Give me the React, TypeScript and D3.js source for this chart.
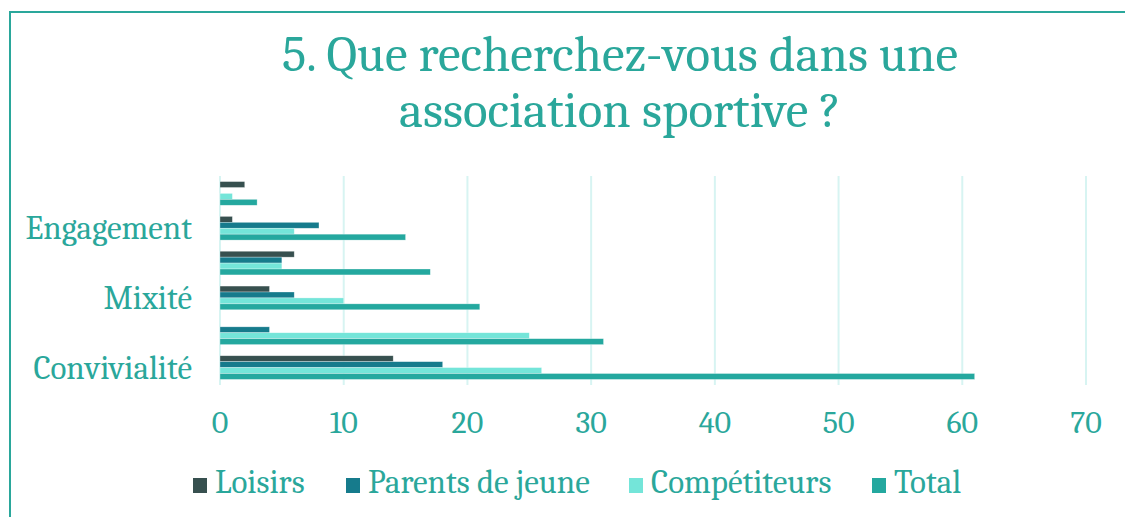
import React, { useEffect, useRef } from "react";
import * as d3 from "d3";

const categories = ["cat6", "Engagement", "cat4", "Mixité", "cat2", "Convivialité"];
const categoryLabels = ["", "Engagement", "", "Mixité", "", "Convivialité"];
const seriesNames = ["Loisirs", "Parents de jeune", "Compétiteurs", "Total"];
const loisirs = [2, 1, 6, 4, 0, 14];
const parents = [0, 8, 5, 6, 4, 18];
const competiteurs = [1, 6, 5, 10, 25, 26];
const total = [3, 15, 17, 21, 31, 61];
const xTicks = [0, 10, 20, 30, 40, 50, 60, 70];
const titleLines = ["5. Que recherchez-vous dans une", "association sportive ?"];

const colors = ["#37504f", "#167b8c", "#74e5d9", "#24a89f"];
const TEXT = "#2aa79b";
const FONT = "Cambria, 'Liberation Serif', serif";

export default function App() {
  const ref = useRef<SVGSVGElement>(null);
  useEffect(() => {
    const svg = d3.select(ref.current);
    svg.selectAll("*").remove();
    const W = 1125, H = 517;
    svg.append("rect").attr("width", W).attr("height", H).attr("fill", "#fff");
    // frame
    svg.append("path").attr("d", `M10,${H} L10,12 L${W},12`).attr("fill", "none").attr("stroke", TEXT).attr("stroke-width", 2);

    // title
    const t = svg.append("text").attr("text-anchor", "middle").attr("fill", TEXT)
      .attr("font-family", FONT).attr("font-size", 51);
    titleLines.forEach((l, i) => {
      t.append("tspan").attr("x", 620).attr("y", 71 + i * 56).text(l);
    });

    const x = d3.scaleLinear().domain([0, 70]).range([220, 1086]);
    const y0 = d3.scaleBand<string>().domain(categories).range([176, 385]).paddingInner(0.32).paddingOuter(0.16);
    const y1 = d3.scaleBand<string>().domain(seriesNames).range([0, y0.bandwidth()]);
    const values = [loisirs, parents, competiteurs, total];

    // grid
    svg.append("g").selectAll("line").data(xTicks).join("line")
      .attr("x1", d => x(d)).attr("x2", d => x(d)).attr("y1", 176).attr("y2", 385)
      .attr("stroke", "#d7f4f2").attr("stroke-width", 2);

    // bars
    const g = svg.append("g");
    categories.forEach((c, ci) => {
      seriesNames.forEach((s, si) => {
        const v = values[si][ci];
        if (v <= 0) return;
        g.append("rect")
          .attr("x", x(0)).attr("y", (y0(c) as number) + (y1(s) as number))
          .attr("width", x(v) - x(0)).attr("height", y1.bandwidth())
          .attr("fill", colors[si]).attr("stroke", "#ffffff").attr("stroke-opacity", 0.5).attr("stroke-width", 0.6);
      });
    });

    // category labels
    svg.append("g").selectAll("text").data(categories).join("text")
      .attr("x", 192).attr("y", d => (y0(d) as number) + y0.bandwidth() / 2 + 11)
      .attr("text-anchor", "end").attr("fill", TEXT).attr("font-family", FONT).attr("font-size", 33)
      .text((d, i) => categoryLabels[i]);

    // x tick labels
    svg.append("g").selectAll("text").data(xTicks).join("text")
      .attr("x", d => x(d)).attr("y", 433).attr("text-anchor", "middle")
      .attr("fill", TEXT).attr("font-family", FONT).attr("font-size", 32).text(d => String(d));

    // legend
    const legendX = [193, 346, 629, 872];
    const lg = svg.append("g");
    seriesNames.forEach((s, i) => {
      lg.append("rect").attr("x", legendX[i]).attr("y", 478).attr("width", 14).attr("height", 15).attr("fill", colors[i]);
      lg.append("text").attr("x", legendX[i] + 22).attr("y", 493).attr("fill", TEXT)
        .attr("font-family", FONT).attr("font-size", 33).text(s);
    });
  }, []);
  return (
    <div style={{ position: "absolute", left: 0, top: 0 }}>
      <svg ref={ref} width={1125} height={517} style={{ display: "block" }} />
    </div>
  );
}
